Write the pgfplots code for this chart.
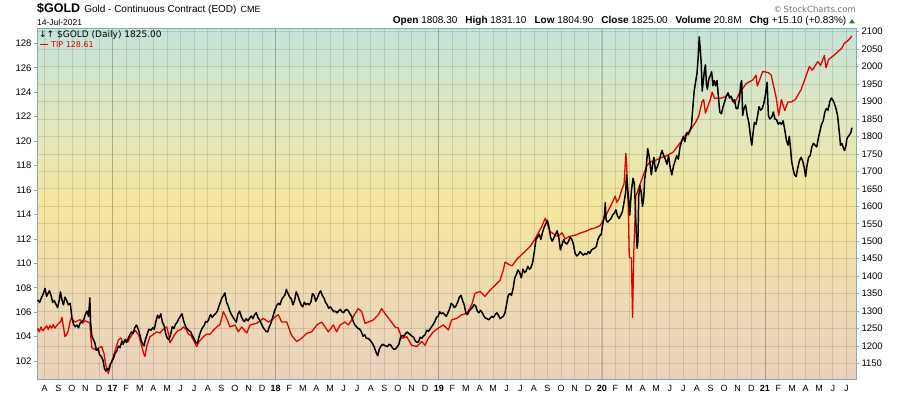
\documentclass[border=0pt]{standalone}
\usepackage{fontspec}
\setmainfont{Liberation Sans}
\newfontfamily\dejavu{DejaVu Sans}
\usepackage{pgfplots}
\pgfplotsset{compat=1.18}
\definecolor{framec}{RGB}{137,170,178}
\definecolor{bgtop}{RGB}{198,227,219}
\definecolor{bgup}{RGB}{224,232,190}
\definecolor{bgmid}{RGB}{245,231,158}
\definecolor{bglow}{RGB}{238,220,176}
\definecolor{bgbot}{RGB}{233,209,189}
\definecolor{tipred}{RGB}{228,0,0}
\definecolor{upgreen}{RGB}{40,130,40}
\pgfdeclareverticalshading{bggrad}{100bp}{color(0bp)=(bgbot); color(25bp)=(bgbot); color(38bp)=(bglow); color(50bp)=(bgmid); color(62bp)=(bgup); color(75bp)=(bgtop); color(100bp)=(bgtop)}

\pgfplotstableread{
x y
2016.540 1332
2016.552 1325
2016.565 1340
2016.575 1350
2016.585 1365
2016.595 1342
2016.603 1350
2016.612 1358
2016.622 1345
2016.632 1325
2016.642 1330
2016.652 1320
2016.662 1310
2016.672 1330
2016.680 1355
2016.690 1330
2016.698 1318
2016.708 1340
2016.718 1330
2016.728 1318
2016.740 1322
2016.750 1280
2016.760 1262
2016.770 1255
2016.780 1260
2016.790 1252
2016.800 1265
2016.812 1270
2016.822 1275
2016.832 1290
2016.842 1300
2016.852 1285
2016.860 1338
2016.864 1270
2016.872 1230
2016.880 1220
2016.890 1210
2016.900 1188
2016.910 1192
2016.920 1175
2016.930 1170
2016.940 1160
2016.950 1135
2016.958 1128
2016.966 1135
2016.975 1132
2016.985 1148
2016.995 1155
2017.005 1165
2017.015 1180
2017.025 1185
2017.035 1200
2017.045 1195
2017.055 1212
2017.065 1205
2017.075 1218
2017.085 1210
2017.095 1222
2017.105 1232
2017.115 1240
2017.125 1236
2017.135 1252
2017.145 1260
2017.155 1250
2017.165 1235
2017.175 1215
2017.185 1205
2017.192 1200
2017.200 1218
2017.210 1232
2017.222 1248
2017.235 1245
2017.245 1252
2017.255 1248
2017.265 1270
2017.275 1288
2017.285 1280
2017.295 1292
2017.305 1268
2017.315 1258
2017.325 1235
2017.335 1222
2017.345 1218
2017.355 1232
2017.365 1255
2017.375 1250
2017.385 1262
2017.395 1268
2017.405 1278
2017.415 1285
2017.425 1292
2017.435 1272
2017.445 1258
2017.455 1250
2017.465 1245
2017.478 1240
2017.488 1230
2017.500 1220
2017.510 1210
2017.520 1208
2017.530 1228
2017.540 1242
2017.550 1252
2017.560 1258
2017.570 1270
2017.580 1268
2017.590 1278
2017.600 1290
2017.610 1282
2017.620 1288
2017.630 1292
2017.640 1298
2017.650 1312
2017.660 1325
2017.670 1338
2017.680 1345
2017.688 1352
2017.698 1325
2017.708 1315
2017.718 1300
2017.728 1290
2017.738 1282
2017.748 1275
2017.758 1268
2017.768 1292
2017.778 1300
2017.788 1285
2017.798 1275
2017.808 1270
2017.818 1278
2017.830 1272
2017.840 1280
2017.850 1286
2017.860 1278
2017.870 1290
2017.880 1295
2017.890 1282
2017.900 1275
2017.910 1265
2017.920 1255
2017.930 1248
2017.940 1242
2017.950 1240
2017.960 1255
2017.970 1265
2017.980 1280
2017.992 1300
2018.005 1315
2018.015 1322
2018.025 1318
2018.035 1332
2018.045 1340
2018.055 1345
2018.065 1362
2018.075 1350
2018.085 1340
2018.095 1335
2018.105 1318
2018.115 1330
2018.125 1355
2018.135 1345
2018.145 1330
2018.155 1318
2018.165 1312
2018.175 1325
2018.185 1318
2018.195 1322
2018.205 1318
2018.215 1325
2018.225 1350
2018.235 1345
2018.245 1328
2018.255 1338
2018.265 1350
2018.275 1358
2018.285 1345
2018.295 1338
2018.305 1325
2018.315 1318
2018.325 1308
2018.335 1312
2018.345 1305
2018.355 1298
2018.365 1300
2018.375 1295
2018.385 1300
2018.395 1305
2018.405 1298
2018.415 1295
2018.425 1302
2018.435 1305
2018.445 1300
2018.455 1292
2018.465 1285
2018.475 1270
2018.485 1260
2018.495 1255
2018.505 1250
2018.515 1248
2018.525 1240
2018.535 1228
2018.545 1232
2018.555 1222
2018.565 1222
2018.575 1218
2018.585 1212
2018.595 1205
2018.605 1195
2018.615 1182
2018.625 1172
2018.635 1192
2018.645 1200
2018.655 1205
2018.665 1202
2018.675 1200
2018.685 1198
2018.695 1205
2018.705 1202
2018.715 1195
2018.725 1190
2018.735 1192
2018.745 1198
2018.755 1205
2018.765 1225
2018.775 1230
2018.785 1228
2018.795 1235
2018.805 1240
2018.815 1236
2018.825 1232
2018.835 1228
2018.845 1225
2018.855 1215
2018.865 1210
2018.875 1212
2018.885 1225
2018.895 1222
2018.905 1228
2018.915 1232
2018.925 1245
2018.935 1242
2018.945 1248
2018.955 1255
2018.965 1262
2018.975 1270
2018.985 1282
2018.995 1285
2019.005 1298
2019.015 1292
2019.025 1295
2019.035 1290
2019.045 1285
2019.055 1295
2019.065 1305
2019.075 1322
2019.085 1318
2019.095 1310
2019.105 1315
2019.115 1325
2019.125 1340
2019.135 1345
2019.145 1330
2019.155 1318
2019.165 1295
2019.175 1290
2019.185 1300
2019.195 1305
2019.205 1310
2019.215 1318
2019.225 1315
2019.235 1300
2019.245 1295
2019.255 1302
2019.265 1296
2019.275 1286
2019.285 1280
2019.295 1278
2019.305 1275
2019.315 1280
2019.325 1285
2019.335 1282
2019.345 1290
2019.355 1295
2019.365 1288
2019.375 1278
2019.385 1282
2019.395 1285
2019.405 1295
2019.415 1320
2019.425 1345
2019.435 1350
2019.445 1345
2019.455 1365
2019.465 1395
2019.475 1405
2019.485 1418
2019.495 1410
2019.505 1395
2019.515 1420
2019.525 1410
2019.535 1415
2019.545 1428
2019.555 1420
2019.565 1425
2019.575 1440
2019.585 1470
2019.595 1505
2019.605 1512
2019.615 1520
2019.625 1505
2019.635 1525
2019.645 1540
2019.655 1550
2019.665 1560
2019.675 1540
2019.685 1510
2019.695 1500
2019.705 1510
2019.715 1520
2019.725 1530
2019.735 1510
2019.745 1475
2019.755 1490
2019.765 1505
2019.775 1495
2019.785 1492
2019.795 1500
2019.805 1512
2019.815 1505
2019.825 1490
2019.835 1465
2019.845 1458
2019.855 1462
2019.865 1470
2019.875 1465
2019.885 1460
2019.895 1465
2019.905 1462
2019.915 1470
2019.925 1465
2019.935 1475
2019.945 1478
2019.955 1480
2019.965 1485
2019.975 1505
2019.985 1515
2019.995 1520
2020.005 1550
2020.015 1575
2020.020 1610
2020.025 1560
2020.035 1555
2020.045 1560
2020.055 1565
2020.065 1575
2020.075 1580
2020.085 1590
2020.095 1572
2020.105 1565
2020.115 1575
2020.125 1585
2020.135 1612
2020.145 1640
2020.150 1690
2020.158 1645
2020.165 1610
2020.170 1575
2020.180 1645
2020.190 1680
2020.198 1665
2020.205 1590
2020.210 1520
2020.215 1480
2020.220 1500
2020.225 1630
2020.232 1660
2020.240 1640
2020.248 1600
2020.255 1620
2020.262 1680
2020.270 1705
2020.280 1765
2020.290 1740
2020.302 1690
2020.310 1720
2020.318 1740
2020.328 1700
2020.338 1712
2020.348 1725
2020.358 1745
2020.368 1760
2020.378 1745
2020.388 1735
2020.398 1720
2020.408 1745
2020.418 1710
2020.428 1690
2020.438 1715
2020.448 1730
2020.458 1745
2020.468 1735
2020.478 1770
2020.488 1785
2020.498 1800
2020.508 1785
2020.518 1810
2020.528 1805
2020.538 1815
2020.548 1830
2020.558 1890
2020.565 1930
2020.575 1960
2020.582 1980
2020.590 2030
2020.596 2085
2020.602 2050
2020.608 2010
2020.614 1930
2020.620 1955
2020.628 1990
2020.634 2005
2020.640 1950
2020.646 1935
2020.655 1965
2020.664 1975
2020.672 1985
2020.680 1945
2020.688 1960
2020.696 1945
2020.705 1960
2020.715 1905
2020.722 1870
2020.732 1865
2020.742 1885
2020.752 1900
2020.762 1915
2020.772 1925
2020.782 1910
2020.792 1915
2020.802 1900
2020.812 1905
2020.822 1880
2020.832 1880
2020.842 1905
2020.850 1950
2020.856 1960
2020.862 1860
2020.870 1880
2020.880 1890
2020.890 1860
2020.900 1840
2020.910 1800
2020.918 1775
2020.926 1810
2020.934 1840
2020.944 1835
2020.954 1860
2020.962 1885
2020.972 1875
2020.982 1880
2020.992 1895
2021.002 1920
2021.012 1955
2021.020 1860
2021.028 1850
2021.040 1855
2021.050 1870
2021.060 1850
2021.070 1848
2021.080 1835
2021.090 1840
2021.100 1835
2021.110 1845
2021.120 1820
2021.130 1790
2021.140 1775
2021.148 1800
2021.156 1765
2021.162 1730
2021.170 1710
2021.180 1690
2021.190 1685
2021.200 1710
2021.210 1730
2021.220 1740
2021.230 1730
2021.240 1710
2021.248 1685
2021.256 1715
2021.266 1740
2021.276 1745
2021.286 1770
2021.296 1780
2021.306 1775
2021.316 1770
2021.326 1795
2021.336 1815
2021.346 1835
2021.356 1845
2021.366 1870
2021.376 1880
2021.386 1875
2021.396 1900
2021.406 1910
2021.414 1905
2021.424 1895
2021.434 1880
2021.444 1860
2021.454 1815
2021.462 1775
2021.470 1780
2021.478 1770
2021.486 1760
2021.494 1770
2021.502 1795
2021.510 1800
2021.518 1805
2021.526 1812
2021.532 1825
}\golddata

\pgfplotstableread{
x y
2016.540 104.7
2016.550 104.4
2016.560 104.8
2016.570 104.5
2016.585 104.7
2016.595 104.9
2016.605 104.6
2016.616 104.9
2016.626 104.7
2016.636 105.0
2016.646 104.7
2016.656 104.9
2016.668 105.1
2016.680 105.2
2016.689 105.6
2016.698 104.8
2016.708 104.0
2016.718 104.2
2016.728 104.5
2016.740 105.3
2016.749 105.6
2016.760 105.3
2016.770 105.2
2016.785 105.3
2016.800 105.4
2016.815 105.1
2016.830 105.3
2016.849 105.2
2016.860 105.1
2016.866 104.0
2016.872 103.1
2016.885 103.0
2016.902 102.9
2016.915 103.1
2016.933 103.2
2016.947 102.6
2016.956 101.8
2016.966 101.3
2016.973 101.0
2016.985 101.6
2017.004 102.4
2017.018 103.0
2017.034 103.7
2017.050 103.9
2017.065 103.5
2017.080 103.8
2017.095 103.6
2017.106 103.9
2017.124 104.3
2017.140 104.5
2017.160 104.1
2017.175 103.4
2017.190 102.6
2017.198 102.4
2017.210 103.3
2017.229 104.0
2017.250 104.2
2017.270 104.4
2017.290 104.3
2017.308 104.6
2017.331 104.8
2017.345 104.1
2017.351 103.5
2017.365 103.8
2017.380 104.2
2017.400 104.5
2017.420 104.6
2017.433 104.8
2017.450 104.6
2017.465 104.2
2017.480 104.1
2017.500 103.6
2017.515 103.2
2017.530 103.6
2017.556 104.0
2017.575 104.2
2017.597 104.2
2017.615 104.5
2017.638 104.8
2017.658 105.0
2017.678 106.05
2017.699 105.5
2017.719 104.8
2017.750 104.96
2017.770 104.4
2017.791 104.8
2017.822 104.3
2017.842 104.96
2017.883 105.1
2017.923 105.5
2017.954 105.2
2017.975 105.37
2017.995 105.6
2018.015 105.8
2018.036 105.2
2018.067 105.2
2018.097 104.1
2018.128 103.6
2018.159 103.87
2018.189 104.28
2018.220 104.4
2018.251 104.96
2018.281 105.2
2018.302 104.8
2018.322 104.4
2018.353 104.96
2018.373 104.4
2018.394 104.96
2018.424 105.2
2018.445 104.96
2018.465 105.37
2018.486 105.9
2018.506 106.3
2018.527 106.05
2018.547 105.1
2018.567 105.2
2018.598 105.37
2018.628 105.8
2018.649 106.3
2018.669 105.9
2018.700 105.37
2018.731 104.8
2018.751 104.7
2018.772 103.87
2018.803 104.0
2018.833 103.3
2018.864 103.2
2018.895 103.6
2018.915 103.3
2018.935 103.87
2018.966 104.4
2018.996 104.7
2019.027 104.96
2019.058 104.55
2019.078 105.37
2019.109 105.5
2019.140 105.8
2019.170 105.9
2019.201 106.6
2019.221 107.55
2019.252 107.7
2019.282 107.3
2019.313 107.8
2019.344 108.2
2019.374 108.6
2019.395 109.45
2019.405 110.1
2019.430 109.9
2019.449 109.8
2019.475 110.3
2019.498 110.6
2019.530 111.0
2019.560 111.4
2019.585 111.9
2019.609 112.5
2019.630 113.0
2019.652 113.7
2019.665 113.2
2019.682 112.6
2019.705 112.4
2019.731 112.2
2019.755 112.5
2019.774 112.0
2019.800 112.2
2019.835 112.3
2019.870 112.5
2019.897 112.6
2019.930 112.8
2019.958 112.9
2019.989 113.1
2020.030 114.1
2020.071 115.2
2020.081 115.5
2020.090 115.0
2020.105 115.3
2020.120 116.0
2020.135 116.5
2020.146 119.0
2020.150 118.3
2020.161 114.4
2020.167 110.5
2020.180 110.4
2020.187 105.6
2020.195 111.1
2020.207 115.5
2020.221 116.0
2020.242 116.8
2020.272 117.9
2020.293 118.3
2020.323 118.4
2020.354 118.6
2020.395 118.8
2020.436 119.1
2020.476 119.8
2020.517 120.6
2020.541 120.9
2020.572 121.5
2020.592 122.0
2020.613 123.2
2020.623 123.4
2020.634 122.3
2020.650 122.9
2020.664 123.4
2020.675 124.0
2020.690 123.5
2020.725 123.5
2020.750 123.6
2020.775 123.8
2020.790 123.6
2020.811 123.1
2020.842 123.9
2020.883 124.7
2020.924 125.0
2020.944 125.4
2020.952 124.5
2020.985 125.7
2021.020 125.6
2021.037 125.4
2021.067 123.6
2021.083 122.1
2021.100 123.4
2021.120 122.5
2021.140 123.2
2021.160 123.2
2021.185 123.4
2021.220 124.2
2021.250 125.3
2021.271 126.1
2021.290 125.8
2021.322 126.5
2021.340 126.2
2021.363 127.0
2021.373 126.0
2021.390 126.7
2021.420 127.0
2021.445 127.3
2021.470 127.6
2021.485 128.0
2021.505 128.2
2021.520 128.4
2021.532 128.61
}\tipdata

\begin{document}
\begin{tikzpicture}
\useasboundingbox (0pt,0pt) rectangle (900pt,396pt);
\pgfplotsset{
  common/.style={
    at={(37pt,16pt)}, anchor=south west,
    width=819pt, height=351pt, scale only axis,
    xmin=2016.536, xmax=2021.557,
  }
}
% background, grid, right axis (GOLD)
\begin{axis}[common,
  ymin=1102.6, ymax=2107.7,
  axis background/.style={shading=bggrad},
  axis line style={framec, line width=1pt},
  xtick={2016.58333,2016.66667,...,2021.55},
  xticklabels={A,S,O,N,D,\textbf{17},F,M,A,M,J,J,A,S,O,N,D,\textbf{18},F,M,A,M,J,J,A,S,O,N,D,\textbf{19},F,M,A,M,J,J,A,S,O,N,D,\textbf{20},F,M,A,M,J,J,A,S,O,N,D,\textbf{21},F,M,A,M,J,J},
  extra x ticks={2017,2018,2019,2020,2021},
  extra x tick labels={},
  extra x tick style={grid style={black, opacity=0.17, line width=0.9pt}},
  xtick pos=bottom,
  ytick={1150,1200,...,2100},
  ytick pos=right, yticklabel pos=right,
  grid=major,
  grid style={black, opacity=0.11, line width=0.7pt},
  major tick length=3pt,
  xtick style={draw=none},
  ytick style={framec, line width=0.8pt},
  tick align=outside,
  /pgf/number format/assume math mode=true,
  yticklabel style={font=\fontsize{9.5}{10}\selectfont, /pgf/number format/1000 sep={}, xshift=-1pt},
  xticklabel style={font=\fontsize{9}{10}\selectfont, yshift=1pt},
]
\end{axis}
% TIP axis (left)
\begin{axis}[common,
  ymin=100.46, ymax=129.17,
  axis line style={draw=none},
  xtick=\empty,
  ytick={102,104,...,128},
  ytick pos=left,
  major tick length=3pt,
  ytick style={framec, line width=0.8pt},
  tick align=outside,
  /pgf/number format/assume math mode=true,
  yticklabel style={font=\fontsize{9.5}{10}\selectfont, xshift=1pt},
]
\addplot[tipred, line width=1.3pt, line join=round] table[x=x,y=y] {\tipdata};
\end{axis}
% GOLD line
\begin{axis}[common, ymin=1102.6, ymax=2107.7, hide axis]
\addplot[black, line width=1.5pt, line join=round] table[x=x,y=y] {\golddata};
\end{axis}

% header
\node[anchor=west, inner sep=0pt] at (37pt,387.5pt) {\fontsize{12.5}{13}\selectfont\textbf{\$GOLD}\hspace{4pt}\fontsize{10}{12}\selectfont Gold - Continuous Contract (EOD)\hspace{4pt}\fontsize{9}{10}\selectfont CME};
\node[anchor=west, inner sep=0pt] at (37pt,373.5pt) {\fontsize{8.5}{10}\selectfont 14-Jul-2021};
\node[anchor=east, inner sep=0pt] at (846.5pt,375pt) {\fontsize{10}{11}\selectfont \textbf{Open} 1808.30\hspace{8pt}\textbf{High} 1831.10\hspace{8pt}\textbf{Low} 1804.90\hspace{8pt}\textbf{Close} 1825.00\hspace{8pt}\textbf{Volume} 20.8M\hspace{8pt}\textbf{Chg} +15.10 (+0.83\%)};
\fill[upgreen] (849pt,372.5pt) -- (855pt,372.5pt) -- (852pt,377pt) -- cycle;
\node[anchor=east, inner sep=0pt, text=black!55] at (856pt,387pt) {\fontsize{8.5}{10}\selectfont\dejavu \textcopyright\,StockCharts.com};
% legend inside plot
\node[anchor=west, inner sep=0pt] at (39pt,361pt) {\fontsize{9}{10}\selectfont\dejavu ↓↑ \$GOLD (Daily) 1825.00};
\draw[tipred, line width=1.5pt] (40pt,351.7pt) -- (48pt,351.7pt);
\node[anchor=west, inner sep=0pt, text=tipred] at (51pt,351.7pt) {\fontsize{8}{10}\selectfont\dejavu TIP 128.61};
\end{tikzpicture}
\end{document}
